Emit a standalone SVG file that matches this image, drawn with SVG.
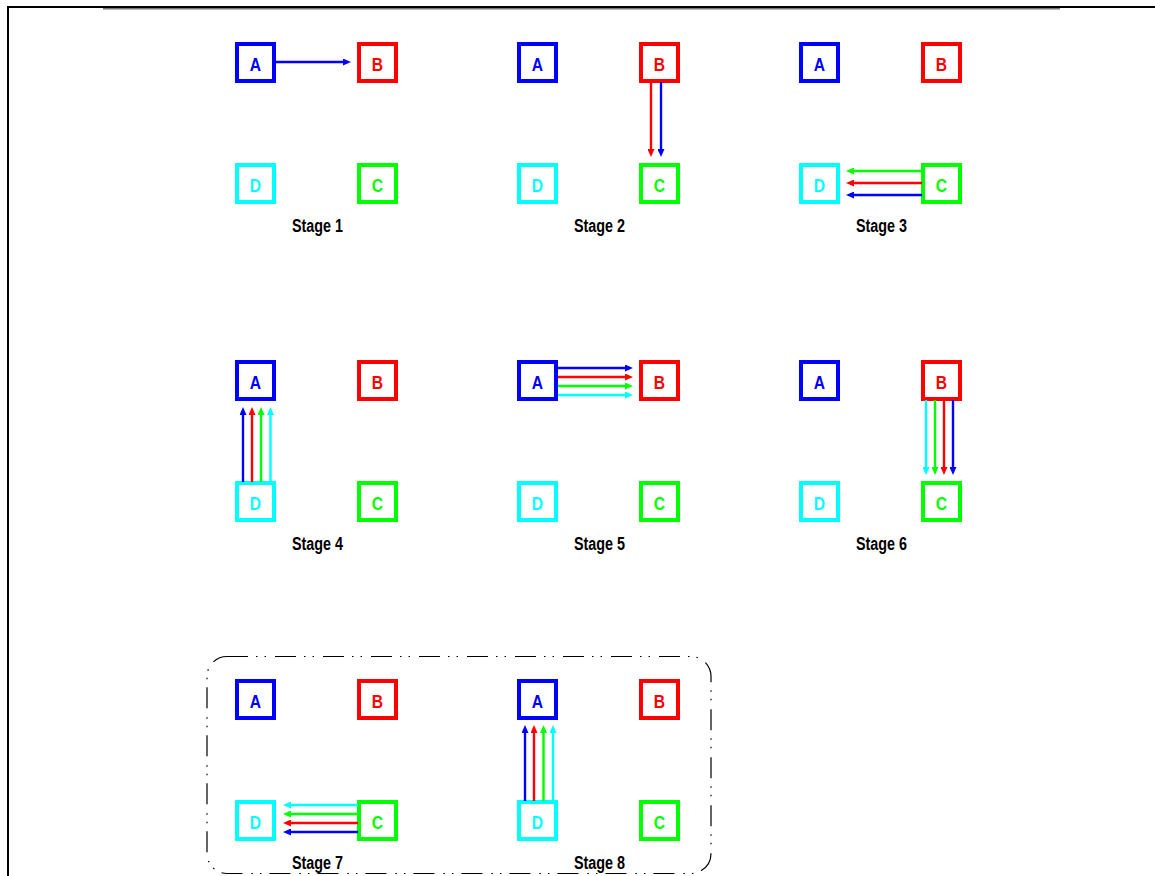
<svg xmlns="http://www.w3.org/2000/svg" width="1155" height="876" viewBox="0 0 1155 876">
<defs>
<style>
.box{fill:#fff;stroke-width:4}
.lbl{font-family:"Liberation Sans",Arial,sans-serif;font-weight:bold;font-size:19px;text-anchor:middle}
.st{font-family:"Liberation Sans",Arial,sans-serif;font-weight:bold;font-size:18px;text-anchor:middle;fill:#000}
.a{stroke-width:2.4;fill:none}
.bl{stroke:#0000ff}.rd{stroke:#ff0000}.gr{stroke:#00ff00}.cy{stroke:#00ffff}
</style>
<marker id="mbl" markerWidth="8" markerHeight="7" refX="3" refY="3.5" orient="auto" markerUnits="userSpaceOnUse"><path d="M0,0 L8,3.5 L0,7 z" fill="#0000ff"/></marker>
<marker id="mrd" markerWidth="8" markerHeight="7" refX="3" refY="3.5" orient="auto" markerUnits="userSpaceOnUse"><path d="M0,0 L8,3.5 L0,7 z" fill="#ff0000"/></marker>
<marker id="mgr" markerWidth="8" markerHeight="7" refX="3" refY="3.5" orient="auto" markerUnits="userSpaceOnUse"><path d="M0,0 L8,3.5 L0,7 z" fill="#00ff00"/></marker>
<marker id="mcy" markerWidth="8" markerHeight="7" refX="3" refY="3.5" orient="auto" markerUnits="userSpaceOnUse"><path d="M0,0 L8,3.5 L0,7 z" fill="#00ffff"/></marker>
<g id="quad">
<rect class="box" x="2" y="2" width="37" height="37" stroke="#0000ff"/>
<text class="lbl" x="20.5" y="29" fill="#0000ff" textLength="11.3" lengthAdjust="spacingAndGlyphs">A</text>
<rect class="box" x="124" y="2" width="37" height="37" stroke="#ff0000"/>
<text class="lbl" x="142.5" y="29" fill="#ff0000" textLength="11.3" lengthAdjust="spacingAndGlyphs">B</text>
<rect class="box" x="2" y="123" width="37" height="37" stroke="#00ffff"/>
<text class="lbl" x="20.5" y="150" fill="#00ffff" textLength="11.3" lengthAdjust="spacingAndGlyphs">D</text>
<rect class="box" x="124" y="123" width="37" height="37" stroke="#00ff00"/>
<text class="lbl" x="142.5" y="150" fill="#00ff00" textLength="11.3" lengthAdjust="spacingAndGlyphs">C</text>
</g>
</defs>
<rect width="1155" height="876" fill="#fff"/>
<g id="frame">
<line x1="103" y1="8.8" x2="1060" y2="8.8" stroke="#777" stroke-width="1.6"/>
<line x1="8" y1="7" x2="1155" y2="7" stroke="#000" stroke-width="2.2"/>
<line x1="8" y1="6" x2="8" y2="876" stroke="#000" stroke-width="2"/>
</g>
<g id="group-7-8">
<rect x="207" y="656.5" width="504" height="217" rx="20" ry="20" fill="none" stroke="#000" stroke-width="1.2" stroke-dasharray="21 8 1.5 7 1.5 9"/>
</g>
<g id="stage1"><use href="#quad" x="235" y="42"/><text class="st" x="317.5" y="232" textLength="51" lengthAdjust="spacingAndGlyphs">Stage 1</text></g>
<g id="stage2"><use href="#quad" x="517" y="42"/><text class="st" x="599.5" y="232" textLength="51" lengthAdjust="spacingAndGlyphs">Stage 2</text></g>
<g id="stage3"><use href="#quad" x="799" y="42"/><text class="st" x="881.5" y="232" textLength="51" lengthAdjust="spacingAndGlyphs">Stage 3</text></g>
<g id="stage4"><use href="#quad" x="235" y="360"/><text class="st" x="317.5" y="550" textLength="51" lengthAdjust="spacingAndGlyphs">Stage 4</text></g>
<g id="stage5"><use href="#quad" x="517" y="360"/><text class="st" x="599.5" y="550" textLength="51" lengthAdjust="spacingAndGlyphs">Stage 5</text></g>
<g id="stage6"><use href="#quad" x="799" y="360"/><text class="st" x="881.5" y="550" textLength="51" lengthAdjust="spacingAndGlyphs">Stage 6</text></g>
<g id="stage7"><use href="#quad" x="235" y="679"/><text class="st" x="317.5" y="869" textLength="51" lengthAdjust="spacingAndGlyphs">Stage 7</text></g>
<g id="stage8"><use href="#quad" x="517" y="679"/><text class="st" x="599.5" y="869" textLength="51" lengthAdjust="spacingAndGlyphs">Stage 8</text></g>
<g id="connectors">
<line class="a bl" x1="276" y1="62" x2="346" y2="62" marker-end="url(#mbl)"/>
<line class="a rd" x1="651" y1="82" x2="651" y2="152" marker-end="url(#mrd)"/>
<line class="a bl" x1="661" y1="82" x2="661" y2="152" marker-end="url(#mbl)"/>
<line class="a gr" x1="922" y1="171" x2="851" y2="171" marker-end="url(#mgr)"/>
<line class="a rd" x1="922" y1="183" x2="851" y2="183" marker-end="url(#mrd)"/>
<line class="a bl" x1="922" y1="195" x2="851" y2="195" marker-end="url(#mbl)"/>
<line class="a bl" x1="243" y1="482" x2="243" y2="412" marker-end="url(#mbl)"/>
<line class="a rd" x1="252" y1="482" x2="252" y2="412" marker-end="url(#mrd)"/>
<line class="a gr" x1="261" y1="482" x2="261" y2="412" marker-end="url(#mgr)"/>
<line class="a cy" x1="270.5" y1="482" x2="270.5" y2="412" marker-end="url(#mcy)"/>
<line class="a bl" x1="558" y1="368" x2="628" y2="368" marker-end="url(#mbl)"/>
<line class="a rd" x1="558" y1="377" x2="628" y2="377" marker-end="url(#mrd)"/>
<line class="a gr" x1="558" y1="386" x2="628" y2="386" marker-end="url(#mgr)"/>
<line class="a cy" x1="558" y1="395" x2="628" y2="395" marker-end="url(#mcy)"/>
<line class="a cy" x1="926" y1="400" x2="926" y2="470" marker-end="url(#mcy)"/>
<line class="a gr" x1="935" y1="400" x2="935" y2="470" marker-end="url(#mgr)"/>
<line class="a rd" x1="944" y1="400" x2="944" y2="470" marker-end="url(#mrd)"/>
<line class="a bl" x1="953" y1="400" x2="953" y2="470" marker-end="url(#mbl)"/>
<line class="a cy" x1="358" y1="805" x2="288" y2="805" marker-end="url(#mcy)"/>
<line class="a gr" x1="358" y1="814" x2="288" y2="814" marker-end="url(#mgr)"/>
<line class="a rd" x1="358" y1="823" x2="288" y2="823" marker-end="url(#mrd)"/>
<line class="a bl" x1="358" y1="832" x2="288" y2="832" marker-end="url(#mbl)"/>
<line class="a bl" x1="525" y1="801" x2="525" y2="730" marker-end="url(#mbl)"/>
<line class="a rd" x1="534" y1="801" x2="534" y2="730" marker-end="url(#mrd)"/>
<line class="a gr" x1="543.5" y1="801" x2="543.5" y2="730" marker-end="url(#mgr)"/>
<line class="a cy" x1="553" y1="801" x2="553" y2="730" marker-end="url(#mcy)"/>
</g>
</svg>
